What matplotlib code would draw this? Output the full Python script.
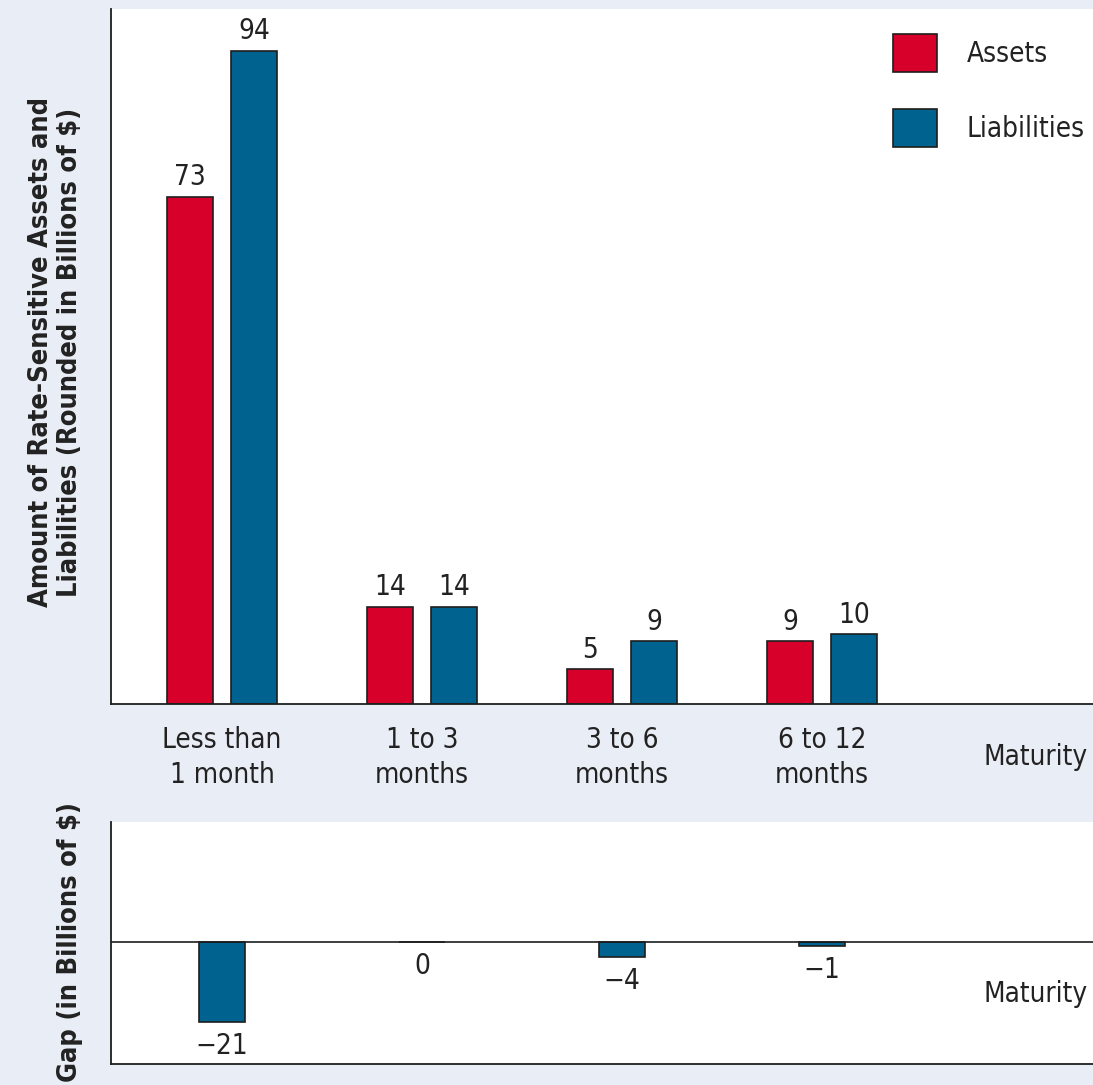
"""
Rate-sensitive assets vs liabilities by maturity, with the gap panel below
"""
import matplotlib
matplotlib.use('Agg')
import matplotlib.pyplot as plt
from matplotlib import font_manager as fm
import numpy as np

# ищем узкий шрифт (в оригинале Helvetica Condensed)
_fonts = fm.fontManager.ttflist
_names = {f.name for f in _fonts}
if 'Liberation Sans Narrow' in _names:
    FAMILY, STRETCH = 'Liberation Sans Narrow', 'normal'
elif any(f.name == 'DejaVu Sans' and f.stretch != 'normal' for f in _fonts):
    FAMILY, STRETCH = 'DejaVu Sans', 'condensed'
else:
    FAMILY, STRETCH = 'DejaVu Sans', 'normal'
plt.rcParams['font.family'] = [FAMILY, 'DejaVu Sans']
plt.rcParams['font.stretch'] = STRETCH

# данные
categories = ['Less than\n1 month', '1 to 3\nmonths', '3 to 6\nmonths', '6 to 12\nmonths']
assets = [73, 14, 5, 9]
liabilities = [94, 14, 9, 10]
gap = [-21, 0, -4, -1]

BG = '#e9edf5'
RED = '#d7002b'
BLUE = '#00628f'
EDGE = '#1e1e1e'
TXT = '#222222'

fig = plt.figure(figsize=(10.93, 10.85), dpi=100, facecolor=BG)

# верхняя панель
ax = fig.add_axes([0.1016, 0.3512, 0.8984, 0.6405])
ax.set_facecolor('white')
x = np.arange(len(categories))
w = 0.23
off = 0.16
b1 = ax.bar(x - off, assets, w, color=RED, edgecolor=EDGE, linewidth=1.2, label='Assets')
b2 = ax.bar(x + off, liabilities, w, color=BLUE, edgecolor=EDGE, linewidth=1.2, label='Liabilities')
for bars, vals in ((b1, assets), (b2, liabilities)):
    for r, v in zip(bars, vals):
        ax.annotate(str(v), (r.get_x() + r.get_width() / 2, v), xytext=(0, 4),
                    textcoords='offset points', ha='center', va='bottom',
                    fontsize=20, color=TXT)
ax.set_xlim(-0.555, 4.355)
ax.set_ylim(0, 100)
ax.set_yticks([])
ax.set_xticks(x)
ax.set_xticklabels(categories, fontsize=20, color=TXT, linespacing=1.3)
ax.tick_params(axis='x', length=0, pad=16)
for s in ('top', 'right'):
    ax.spines[s].set_visible(False)
for s in ('left', 'bottom'):
    ax.spines[s].set_color(EDGE)
    ax.spines[s].set_linewidth(1.3)

ax.legend(loc='upper left', bbox_to_anchor=(893 / 1093, 1 - 34 / 1085),
          bbox_transform=fig.transFigure, frameon=False, fontsize=20,
          handlelength=1.6, handleheight=1.7, handletextpad=1.05,
          labelspacing=1.35, borderpad=0, borderaxespad=0, labelcolor=TXT)

fig.text(1088 / 1093, 1 - 757 / 1085, 'Maturity', ha='right', va='center',
         fontsize=20, color=TXT)
fig.text(56 / 1093, 1 - 352 / 1085,
         'Amount of Rate-Sensitive Assets and\nLiabilities (Rounded in Billions of $)',
         rotation=90, ha='center', va='center', fontsize=19.5, fontweight='bold',
         color=TXT, linespacing=1.15, multialignment='center')

# нижняя панель (разрыв)
ax2 = fig.add_axes([0.1016, 0.0194, 0.8984, 0.2230])
ax2.set_facecolor('white')
g = ax2.bar(x, gap, w, color=BLUE, edgecolor=EDGE, linewidth=1.2)
for r, v in zip(g, gap):
    lab = str(v).replace('-', '\u2212')
    ax2.annotate(lab, (r.get_x() + r.get_width() / 2, min(v, 0)), xytext=(0, -7),
                 textcoords='offset points', ha='center', va='top',
                 fontsize=20, color=TXT)
ax2.axhline(0, color=EDGE, linewidth=1.2)
ax2.set_xlim(-0.555, 4.355)
ax2.set_ylim(-32, 31.5)
ax2.set_xticks([])
ax2.set_yticks([])
for s in ('top', 'right'):
    ax2.spines[s].set_visible(False)
for s in ('left', 'bottom'):
    ax2.spines[s].set_color(EDGE)
    ax2.spines[s].set_linewidth(1.3)
ax2.text(0.995, 0.29, 'Maturity', transform=ax2.transAxes, ha='right', va='center',
         fontsize=20, color=TXT)

fig.text(70 / 1093, 1 - 942 / 1085, 'Gap (in Billions of $)', rotation=90,
         ha='center', va='center', fontsize=19.5, fontweight='bold', color=TXT)

fig.savefig('out.png', dpi=100, facecolor=BG)
plt.close(fig)
